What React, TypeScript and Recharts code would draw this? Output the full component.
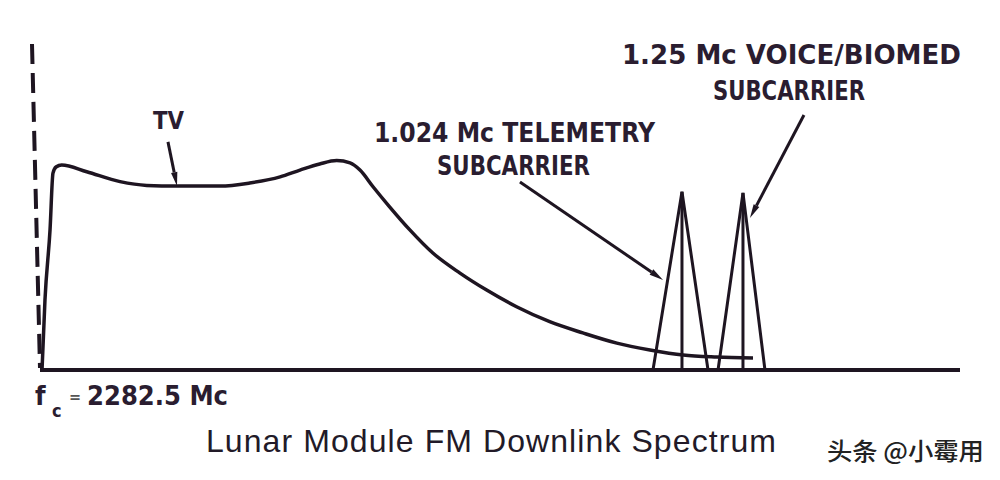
import React from 'react';
import { ComposedChart, Line, XAxis, YAxis, ReferenceLine, ReferenceDot } from 'recharts';

// Relative frequency (0 = carrier fc, 1000 = right end) and relative amplitude (0..100)
const tvFreq = [2.2, 5.4, 10.9, 14.1, 17.4, 23.6, 50.8, 87, 116, 148.6, 195.7, 228, 261, 282.6, 304, 322.5, 337, 347.8, 362, 380, 402, 427, 456.5, 485.5, 518, 554, 590, 627, 663, 699, 735.5, 775];
const tvLevel = [0, 20.6, 41.2, 57.9, 59.7, 60.3, 58.3, 55.4, 54.3, 54.1, 54.1, 55, 56.8, 58.8, 60.6, 61.6, 60.9, 58.8, 53.9, 48, 41.2, 34.4, 28.5, 23.5, 18.6, 14.2, 10.9, 7.9, 5.9, 4.4, 3.8, 3.5];

const telemetryFreq = [666.3, 697.8, 726.1];
const telemetryLevel = [0, 52.4, 0];
const voiceFreq = [737, 764.1, 788];
const voiceLevel = [0, 52.1, 0];

const labelTexts = ['TV', '1.024 Mc TELEMETRY', 'SUBCARRIER', '1.25 Mc VOICE/BIOMED', 'SUBCARRIER'];
const carrierText = ['f', 'c', '=', '2282.5 Mc'];
const titleText = 'Lunar Module FM Downlink Spectrum';
const watermarkText = '头条 @小霉用';

const toPts = (xs: number[], ys: number[]) => xs.map((x, i) => ({ x, y: ys[i] }));
const tvData = toPts(tvFreq, tvLevel);
const telemetryData = toPts(telemetryFreq, telemetryLevel);
const voiceData = toPts(voiceFreq, voiceLevel);
const telemetryCenter = toPts([telemetryFreq[1], telemetryFreq[1]], [telemetryLevel[1], 0]);
const voiceCenter = toPts([voiceFreq[1], voiceFreq[1]], [voiceLevel[1], 0]);

const INK = '#1e1521';
const TEXT = '#2a1d30';
const LETTER_FONT = '"DejaVu Sans Condensed", "DejaVu Sans", sans-serif';

const arrowShape = (p: any) => {
  const { x1, y1, x2, y2 } = p;
  const a = Math.atan2(y2 - y1, x2 - x1);
  const len = 14;
  const hw = 3.2;
  const bx = x2 - Math.cos(a) * len;
  const by = y2 - Math.sin(a) * len;
  const nx = -Math.sin(a) * hw;
  const ny = Math.cos(a) * hw;
  return (
    <g>
      <line x1={x1} y1={y1} x2={bx} y2={by} stroke={INK} strokeWidth={3} />
      <polygon points={`${x2},${y2} ${bx + nx},${by + ny} ${bx - nx},${by - ny}`} fill={INK} />
    </g>
  );
};

const textLabel = (text: string, width: number | null, size: number, opts: any = {}) => (p: any) => {
  const vb = p.viewBox || {};
  const extra: any = width ? { textLength: width, lengthAdjust: opts.adjust || 'spacingAndGlyphs' } : {};
  return (
    <text
      x={vb.x}
      y={vb.y}
      fontSize={size}
      fontFamily={opts.family || LETTER_FONT}
      fontWeight={opts.weight || 'bold'}
      fill={opts.color || TEXT}
      {...extra}
    >
      {text}
    </text>
  );
};

const carrierLabel = (p: any) => {
  const vb = p.viewBox || {};
  const x = vb.x;
  const y = vb.y;
  return (
    <g fill={TEXT} fontFamily={LETTER_FONT} fontWeight="bold">
      <text x={x} y={y} fontSize={27}>{carrierText[0]}</text>
      <text x={x + 17} y={y + 12} fontSize={18}>{carrierText[1]}</text>
      <text x={x + 34} y={y - 3} fontSize={16} fill="#555">{carrierText[2]}</text>
      <text x={x + 52} y={y} fontSize={26} textLength={141} lengthAdjust="spacingAndGlyphs">{carrierText[3]}</text>
    </g>
  );
};

export default function App() {
  return (
    <div style={{ position: 'absolute', left: 0, top: 0, width: 1000, height: 480, background: '#ffffff' }}>
      <ComposedChart width={1000} height={480} margin={{ top: 30, right: 40, bottom: 110, left: 40 }}>
        <XAxis type="number" dataKey="x" domain={[0, 1000]} hide />
        <YAxis type="number" dataKey="y" domain={[0, 100]} hide />

        <ReferenceLine y={0} stroke={INK} strokeWidth={4} />
        <ReferenceLine
          segment={[{ x: -8.7, y: 95.9 }, { x: 0, y: 0.6 }]}
          stroke={INK}
          strokeWidth={4}
          strokeDasharray="20 9"
          ifOverflow="visible"
        />

        <Line data={tvData} dataKey="y" type="monotone" stroke={INK} strokeWidth={3.5} dot={false} isAnimationActive={false} />
        <Line data={telemetryData} dataKey="y" type="linear" stroke={INK} strokeWidth={3} dot={false} isAnimationActive={false} />
        <Line data={telemetryCenter} dataKey="y" type="linear" stroke={INK} strokeWidth={3} dot={false} isAnimationActive={false} />
        <Line data={voiceData} dataKey="y" type="linear" stroke={INK} strokeWidth={3} dot={false} isAnimationActive={false} />
        <Line data={voiceCenter} dataKey="y" type="linear" stroke={INK} strokeWidth={3} dot={false} isAnimationActive={false} />

        <ReferenceLine segment={[{ x: 139.1, y: 67.1 }, { x: 148.9, y: 54.1 }]} shape={arrowShape} ifOverflow="visible" />
        <ReferenceLine segment={[{ x: 521.7, y: 55.3 }, { x: 677.2, y: 26.5 }]} shape={arrowShape} ifOverflow="visible" />
        <ReferenceLine segment={[{ x: 830.4, y: 75 }, { x: 771.7, y: 44.7 }]} shape={arrowShape} ifOverflow="visible" />

        <ReferenceDot x={122.8} y={70.9} r={0} ifOverflow="visible" label={textLabel(labelTexts[0], 31, 25)} />
        <ReferenceDot x={363} y={67.1} r={0} ifOverflow="visible" label={textLabel(labelTexts[1], 281, 26)} />
        <ReferenceDot x={431.5} y={57.4} r={0} ifOverflow="visible" label={textLabel(labelTexts[2], 153, 26)} />
        <ReferenceDot x={632.6} y={90} r={0} ifOverflow="visible" label={textLabel(labelTexts[3], 339, 26)} />
        <ReferenceDot x={731.5} y={79.4} r={0} ifOverflow="visible" label={textLabel(labelTexts[4], 152, 26)} />

        <ReferenceDot x={-5.4} y={-10.3} r={0} ifOverflow="visible" label={carrierLabel} />
        <ReferenceDot
          x={180.4}
          y={-24.1}
          r={0}
          ifOverflow="visible"
          label={textLabel(titleText, 570, 32, { family: '"Liberation Sans", Arial, sans-serif', weight: 'normal', color: '#221a28', adjust: 'spacing' })}
        />
        <ReferenceDot
          x={855.4}
          y={-26.5}
          r={0}
          ifOverflow="visible"
          label={textLabel(watermarkText, 157, 24, { family: '"Noto Sans CJK SC", sans-serif', weight: 500, color: '#222222' })}
        />
      </ComposedChart>
    </div>
  );
}
